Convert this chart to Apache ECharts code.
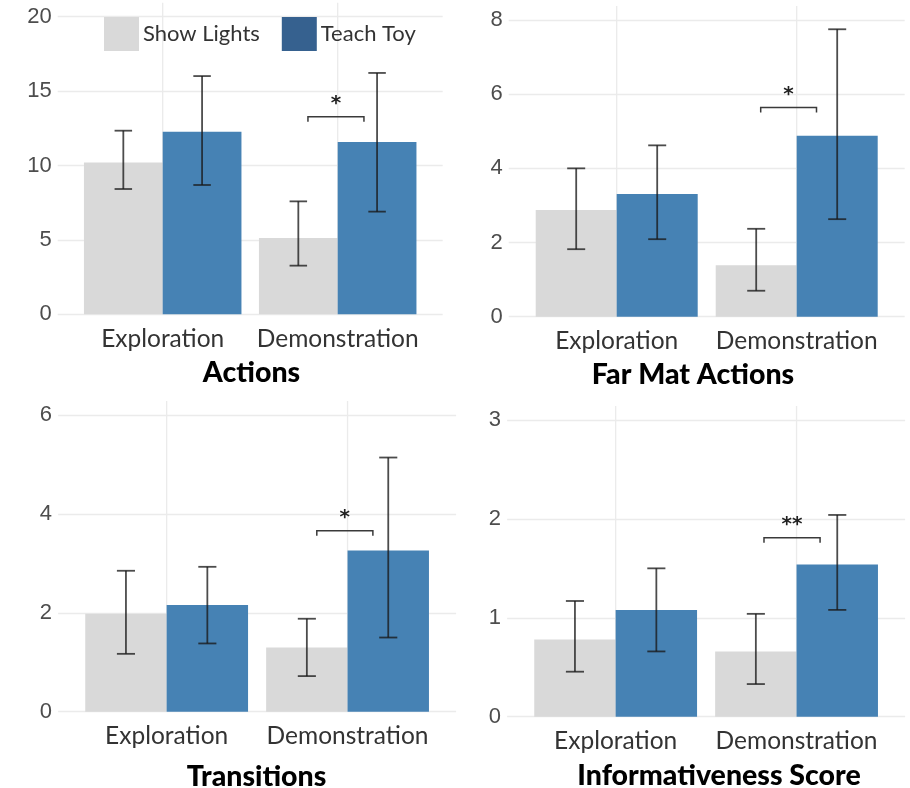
<!DOCTYPE html>
<html>
<head>
<meta charset="utf-8">
<script src="https://cdn.jsdelivr.net/npm/echarts@6/dist/echarts.min.js"></script>
<style>
  html, body { margin: 0; padding: 0; background: #ffffff; }
  #chart { width: 910px; height: 788px; }
</style>
</head>
<body>
<div id="chart"></div>
<script>
// Conditions and phases
const categories = ['Exploration', 'Demonstration'];
const groupNames = ['Show Lights', 'Teach Toy'];
const panelTitles = ['Actions', 'Far Mat Actions', 'Transitions', 'Informativeness Score'];

// Y axis ranges per panel
const yMax = [20, 8, 6, 3];
const yInterval = [5, 2, 2, 1];

// Means and error-bar bounds per panel: [Exploration, Demonstration]
const showLightsMean = [[10.2, 5.13], [2.88, 1.39], [1.98, 1.30], [0.78, 0.66]];
const showLightsLow  = [[8.42, 3.27], [1.82, 0.70], [1.17, 0.72], [0.455, 0.33]];
const showLightsHigh = [[12.34, 7.59], [4.00, 2.37], [2.85, 1.88], [1.17, 1.04]];
const teachToyMean   = [[12.27, 11.58], [3.31, 4.88], [2.16, 3.26], [1.08, 1.54]];
const teachToyLow    = [[8.69, 6.90], [2.09, 2.63], [1.38, 1.50], [0.66, 1.08]];
const teachToyHigh   = [[16.01, 16.22], [4.62, 7.75], [2.93, 5.14], [1.50, 2.04]];

// Significance brackets (Demonstration phase)
const sigLabels = ['*', '*', '*', '**'];
const sigY = [13.28, 5.64, 3.66, 1.81];
const sigFrom = [1.83, 1.80, 1.83, 1.82];
const sigTo = [2.15, 2.11, 2.14, 2.13];

const GRAY = '#D9D9D9';
const BLUE = '#4682B4';
const LEGEND_BLUE = '#36618F';
const GRID_COLOR = '#EBEBEB';
const BAR_HALF = 0.45;      // each bar spans 0.45 category units
const CAP_HALF = 0.05;

const panelGrids = [
  { left: 57.7, top: 16.7, width: 385, height: 297.6 },
  { left: 508.7, top: 20, width: 396, height: 296.7 },
  { left: 58.1, top: 415, width: 398, height: 296.7 },
  { left: 507.1, top: 420, width: 398, height: 296.7 }
];
const titlePos = [[251.5, 372.5], [693, 375], [256.5, 777], [719, 776]];

const chart = echarts.init(document.getElementById('chart'));

const grid = [], xAxis = [], yAxis = [], series = [];

function barRender(side) {
  return function (params, api) {
    const x = api.value(0), v = api.value(1);
    const x0 = side === 0 ? x - BAR_HALF : x;
    const x1 = side === 0 ? x : x + BAR_HALF;
    const p0 = api.coord([x0, v]);
    const p1 = api.coord([x1, 0]);
    return {
      type: 'rect',
      shape: { x: p0[0], y: p0[1], width: p1[0] - p0[0], height: p1[1] - p0[1] },
      style: { fill: side === 0 ? GRAY : BLUE }
    };
  };
}

function errRender(params, api) {
  const x = api.value(0), lo = api.value(1), hi = api.value(2);
  const pl = api.coord([x, lo]), ph = api.coord([x, hi]);
  const cl = api.coord([x - CAP_HALF, lo]), cr = api.coord([x + CAP_HALF, lo]);
  const style = { stroke: 'rgba(25,25,25,0.78)', lineWidth: 1.8 };
  return {
    type: 'group',
    children: [
      { type: 'line', shape: { x1: pl[0], y1: pl[1], x2: ph[0], y2: ph[1] }, style },
      { type: 'line', shape: { x1: cl[0], y1: ph[1], x2: cr[0], y2: ph[1] }, style },
      { type: 'line', shape: { x1: cl[0], y1: pl[1], x2: cr[0], y2: pl[1] }, style }
    ]
  };
}

function vGridRender(p) {
  return function (params, api) {
    const x = api.value(0);
    const a = api.coord([x, 0]), b = api.coord([x, yMax[p]]);
    return {
      type: 'line',
      shape: { x1: a[0], y1: a[1], x2: b[0], y2: b[1] - 14 },
      style: { stroke: GRID_COLOR, lineWidth: 1.3 }
    };
  };
}

function sigRender(p) {
  return function (params, api) {
    const a = api.coord([api.value(0), api.value(2)]);
    const b = api.coord([api.value(1), api.value(2)]);
    return {
      type: 'group',
      children: [
        {
          type: 'polyline',
          shape: { points: [[a[0], a[1] + 5], a, b, [b[0], b[1] + 5]] },
          style: { stroke: '#3a3a3a', lineWidth: 1.5, fill: null }
        },
        {
          type: 'text',
          style: {
            x: (a[0] + b[0]) / 2, y: a[1] - 3,
            text: sigLabels[p], align: 'center', verticalAlign: 'bottom',
            fill: '#222', font: 'bold 20px "DejaVu Sans", sans-serif'
          }
        }
      ]
    };
  };
}

for (let p = 0; p < 4; p++) {
  grid.push(Object.assign({ containLabel: false }, panelGrids[p]));
  xAxis.push({
    type: 'value', gridIndex: p, min: 0.4, max: 2.6, interval: 0.2,
    axisLine: { show: false }, axisTick: { show: false }, splitLine: { show: false },
    axisLabel: {
      margin: 12, fontSize: 24.5, color: '#333333', fontFamily: 'Lato, sans-serif',
      formatter: function (v) {
        for (let i = 0; i < categories.length; i++) {
          if (Math.abs(v - (i + 1)) < 1e-6) return categories[i];
        }
        return '';
      }
    }
  });
  yAxis.push({
    type: 'value', gridIndex: p, min: 0, max: yMax[p], interval: yInterval[p],
    axisLine: { show: false }, axisTick: { show: false },
    splitLine: { show: true, lineStyle: { color: GRID_COLOR, width: 1.3 } },
    axisLabel: { margin: 6, fontSize: 22, color: '#4d4d4d', fontFamily: '"Liberation Sans", Arial, sans-serif' }
  });

  series.push({
    type: 'custom', xAxisIndex: p, yAxisIndex: p, z: 1, silent: true,
    renderItem: vGridRender(p),
    data: categories.map((c, i) => [i + 1]),
    encode: { x: 0 }
  });
  series.push({
    name: groupNames[0], type: 'custom', xAxisIndex: p, yAxisIndex: p, z: 2,
    itemStyle: { color: GRAY },
    renderItem: barRender(0),
    data: categories.map((c, i) => [i + 1, showLightsMean[p][i]]),
    encode: { x: 0, y: 1 }
  });
  series.push({
    name: groupNames[1], type: 'custom', xAxisIndex: p, yAxisIndex: p, z: 2,
    itemStyle: { color: BLUE },
    renderItem: barRender(1),
    data: categories.map((c, i) => [i + 1, teachToyMean[p][i]]),
    encode: { x: 0, y: 1 }
  });
  series.push({
    type: 'custom', xAxisIndex: p, yAxisIndex: p, z: 3, silent: true,
    renderItem: errRender,
    data: categories.map((c, i) => [i + 1 - BAR_HALF / 2, showLightsLow[p][i], showLightsHigh[p][i]])
      .concat(categories.map((c, i) => [i + 1 + BAR_HALF / 2, teachToyLow[p][i], teachToyHigh[p][i]])),
    encode: { x: 0, y: [1, 2] }
  });
  series.push({
    type: 'custom', xAxisIndex: p, yAxisIndex: p, z: 3, silent: true,
    renderItem: sigRender(p),
    data: [[sigFrom[p], sigTo[p], sigY[p]]],
    encode: { x: [0, 1], y: 2 }
  });
}

const graphic = panelTitles.map((t, p) => ({
  type: 'text',
  x: titlePos[p][0], y: titlePos[p][1],
  style: {
    text: t, align: 'center', verticalAlign: 'middle',
    fill: '#000000', font: '900 28.5px Lato, sans-serif'
  }
}));

chart.setOption({
  animation: false,
  grid, xAxis, yAxis, series, graphic,
  legend: {
    left: 104, top: 17, orient: 'horizontal', padding: 0,
    itemWidth: 35, itemHeight: 34, itemGap: 22,
    icon: 'rect', selectedMode: false,
    textStyle: { fontSize: 22, color: '#333333', fontFamily: 'Lato, sans-serif', padding: [0, 0, 0, -1] },
    data: [
      { name: groupNames[0], itemStyle: { color: GRAY } },
      { name: groupNames[1], itemStyle: { color: LEGEND_BLUE } }
    ]
  }
});
</script>
</body>
</html>
